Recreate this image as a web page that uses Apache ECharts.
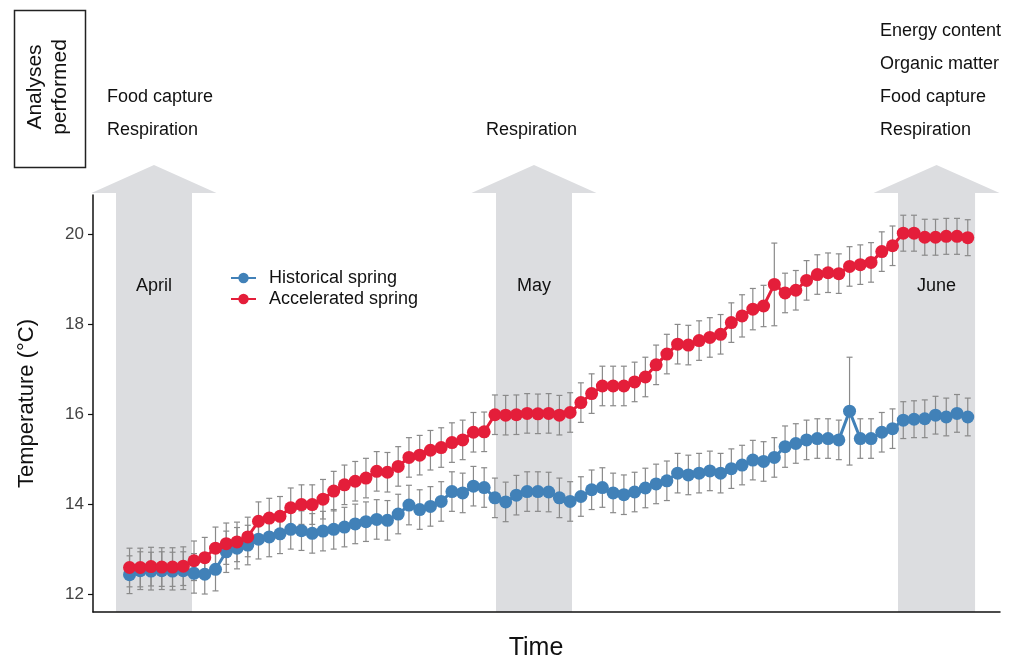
<!DOCTYPE html>
<html>
<head>
<meta charset="utf-8">
<script src="https://cdn.jsdelivr.net/npm/echarts@6/dist/echarts.min.js"></script>
<style>
html,body{margin:0;padding:0;background:#fff;}
#chart{width:1011px;height:666px;}
</style>
</head>
<body>
<div id="chart"></div>
<script>
// ---- data ----
const seriesNames = ['Historical spring', 'Accelerated spring'];
const historical = [12.43,12.52,12.51,12.52,12.51,12.52,12.46,12.44,12.55,12.94,
  13.02,13.09,13.22,13.27,13.34,13.44,13.41,13.35,13.40,13.44,
  13.49,13.56,13.61,13.66,13.64,13.78,13.98,13.88,13.95,14.06,
  14.28,14.25,14.40,14.37,14.14,14.05,14.20,14.28,14.28,14.27,
  14.14,14.06,14.17,14.32,14.37,14.25,14.21,14.27,14.36,14.45,
  14.52,14.69,14.65,14.69,14.74,14.69,14.79,14.87,14.98,14.95,
  15.04,15.28,15.35,15.43,15.46,15.46,15.43,16.07,15.46,15.46,
  15.60,15.68,15.87,15.89,15.90,15.98,15.94,16.02,15.94];
const historicalErr = [0.42,0.42,0.42,0.42,0.42,0.42,0.44,0.44,0.48,0.46,
  0.46,0.44,0.44,0.44,0.44,0.44,0.44,0.44,0.44,0.44,
  0.44,0.44,0.44,0.44,0.44,0.44,0.44,0.44,0.44,0.44,
  0.44,0.44,0.44,0.44,0.44,0.44,0.44,0.44,0.44,0.44,
  0.44,0.44,0.44,0.44,0.44,0.44,0.44,0.44,0.44,0.44,
  0.44,0.44,0.44,0.44,0.44,0.44,0.44,0.44,0.44,0.44,
  0.44,0.46,0.44,0.44,0.44,0.44,0.44,1.20,0.44,0.44,
  0.44,0.44,0.41,0.41,0.42,0.42,0.42,0.42,0.42];
const accelerated = [12.59,12.59,12.61,12.60,12.60,12.62,12.74,12.81,13.02,13.12,
  13.16,13.27,13.62,13.69,13.73,13.92,13.99,13.99,14.11,14.29,
  14.43,14.51,14.58,14.73,14.71,14.84,15.04,15.09,15.20,15.26,
  15.37,15.43,15.60,15.61,15.99,15.98,15.99,16.02,16.01,16.02,
  15.98,16.04,16.26,16.46,16.63,16.63,16.63,16.72,16.83,17.10,
  17.34,17.56,17.54,17.64,17.71,17.78,18.04,18.19,18.34,18.41,
  18.89,18.70,18.76,18.98,19.11,19.15,19.13,19.29,19.33,19.38,
  19.62,19.75,20.03,20.03,19.94,19.94,19.96,19.96,19.93];
const acceleratedErr = [0.43,0.43,0.43,0.43,0.43,0.43,0.44,0.45,0.47,0.46,
  0.44,0.44,0.43,0.44,0.44,0.44,0.44,0.44,0.44,0.44,
  0.44,0.44,0.44,0.44,0.44,0.44,0.44,0.44,0.44,0.44,
  0.44,0.44,0.44,0.44,0.44,0.44,0.44,0.44,0.44,0.44,
  0.44,0.44,0.44,0.44,0.44,0.44,0.44,0.44,0.44,0.44,
  0.44,0.44,0.44,0.44,0.44,0.44,0.44,0.47,0.46,0.46,
  0.92,0.44,0.44,0.44,0.44,0.44,0.44,0.44,0.44,0.44,
  0.44,0.44,0.40,0.40,0.40,0.40,0.40,0.40,0.40];
const yTicks = [12, 14, 16, 18, 20];
const months = ['April', 'May', 'June'];
const monthStart = [-1.26, 34.1, 71.51];
const monthEnd = [5.81, 41.17, 78.68];
const analyses = [
  ['Food capture', 'Respiration'],
  ['Respiration'],
  ['Energy content', 'Organic matter', 'Food capture', 'Respiration']
];

// ---- chart ----
const X_MIN = -3.4, X_MAX = 81.0, Y_MIN = 11.6, Y_MAX = 20.88;
const FONT = '"Liberation Sans", Arial, Helvetica, sans-serif';
const BLUE = '#4181b8', RED = '#e41e3a', BAND = '#dcdde0', ERR = '#8a8a8a';

const chart = echarts.init(document.getElementById('chart'), null, {renderer: 'canvas'});

function toXY(arr) { return arr.map((v, i) => [i, v]); }
function toErr(arr, err) { return arr.map((v, i) => [i, v - err[i], v + err[i]]); }

function errRender(params, api) {
  const x = api.value(0);
  const lo = api.coord([x, api.value(1)]);
  const hi = api.coord([x, api.value(2)]);
  const w = 3;
  const st = {stroke: ERR, lineWidth: 1.2};
  return {type: 'group', children: [
    {type: 'line', shape: {x1: lo[0], y1: lo[1], x2: hi[0], y2: hi[1]}, style: st},
    {type: 'line', shape: {x1: lo[0]-w, y1: lo[1], x2: lo[0]+w, y2: lo[1]}, style: st},
    {type: 'line', shape: {x1: hi[0]-w, y1: hi[1], x2: hi[0]+w, y2: hi[1]}, style: st}
  ]};
}

function bandRender(params, api) {
  const i = params.dataIndex;
  const s = api.value(0), e = api.value(1);
  const pt = api.coord([s, Y_MAX]);
  const pb = api.coord([s, Y_MIN]);
  const xl = pt[0], xr = api.coord([e, Y_MAX])[0];
  const top = pt[1], bot = pb[1];
  const base = top - 2, apex = top - 30, ext = 24.5;
  const xc = (xl + xr) / 2;
  return {type: 'group', children: [
    {type: 'polygon', shape: {points: [[xl, bot], [xl, base], [xl - ext, base], [xc, apex], [xr + ext, base], [xr, base], [xr, bot]]},
     style: {fill: BAND}},
    {type: 'text', x: xc, y: top + 91,
     style: {text: months[i], fill: '#111', fontSize: 18, fontFamily: FONT, align: 'center', verticalAlign: 'middle'}}
  ]};
}

// analyses text (annotations above the arrows)
const textX = [107, 486, 880];
const graphics = [
  {type: 'rect', left: 12, top: 8, shape: {width: 71, height: 157},
   style: {fill: 'none', stroke: '#222', lineWidth: 1.5}},
  {type: 'text', x: 48, y: 87, rotation: Math.PI / 2,
   style: {text: 'Analyses\nperformed', fill: '#111', fontSize: 21, lineHeight: 25, fontFamily: FONT, align: 'center', verticalAlign: 'middle'}}
];
analyses.forEach((list, k) => {
  list.forEach((t, j) => {
    const y = 130 - (list.length - 1 - j) * 33;
    graphics.push({type: 'text', x: textX[k], y: y,
      style: {text: t, fill: '#111', fontSize: 18, fontFamily: FONT, align: 'left', verticalAlign: 'middle'}});
  });
});

const option = {
  animation: false,
  backgroundColor: '#fff',
  textStyle: {fontFamily: FONT},
  grid: {left: 93, right: 11, top: 195, bottom: 51, containLabel: false},
  legend: {
    orient: 'vertical', left: 225, top: 264, itemWidth: 25, itemHeight: 13, itemGap: 3,
    data: seriesNames,
    textStyle: {fontSize: 18, lineHeight: 18, color: '#111', fontFamily: FONT, padding: [0, 0, 0, 8]}
  },
  xAxis: {
    type: 'value', min: X_MIN, max: X_MAX,
    name: 'Time', nameLocation: 'middle', nameGap: 24,
    nameTextStyle: {fontSize: 25, color: '#111', fontFamily: FONT, padding: [0, 21, 0, 0]},
    axisLine: {show: true, onZero: false, lineStyle: {color: '#111', width: 1.5}},
    axisTick: {show: false}, axisLabel: {show: false}, splitLine: {show: false}
  },
  yAxis: {
    type: 'value', min: Y_MIN, max: Y_MAX,
    name: 'Temperature (°C)', nameLocation: 'middle', nameGap: 55,
    nameTextStyle: {fontSize: 22, color: '#111', fontFamily: FONT},
    axisLine: {show: true, onZero: false, lineStyle: {color: '#111', width: 1.5}},
    axisTick: {show: true, length: 5, customValues: yTicks, lineStyle: {color: '#111', width: 1.2}},
    axisLabel: {show: true, customValues: yTicks, fontSize: 17, color: '#444', margin: 9, fontFamily: FONT},
    splitLine: {show: false}
  },
  graphic: graphics,
  series: [
    {type: 'custom', name: 'bands', renderItem: bandRender, clip: false, silent: true, z: 0,
     data: months.map((m, i) => [monthStart[i], monthEnd[i]])},
    {type: 'custom', name: 'errH', renderItem: errRender, silent: true, z: 1,
     data: toErr(historical, historicalErr)},
    {type: 'custom', name: 'errA', renderItem: errRender, silent: true, z: 1,
     data: toErr(accelerated, acceleratedErr)},
    {type: 'line', name: seriesNames[0], data: toXY(historical), z: 2,
     symbol: 'circle', symbolSize: 13, showSymbol: true,
     itemStyle: {color: BLUE}, lineStyle: {color: BLUE, width: 3}},
    {type: 'line', name: seriesNames[1], data: toXY(accelerated), z: 3,
     symbol: 'circle', symbolSize: 13, showSymbol: true,
     itemStyle: {color: RED}, lineStyle: {color: RED, width: 3}}
  ]
};
chart.setOption(option);
</script>
</body>
</html>
